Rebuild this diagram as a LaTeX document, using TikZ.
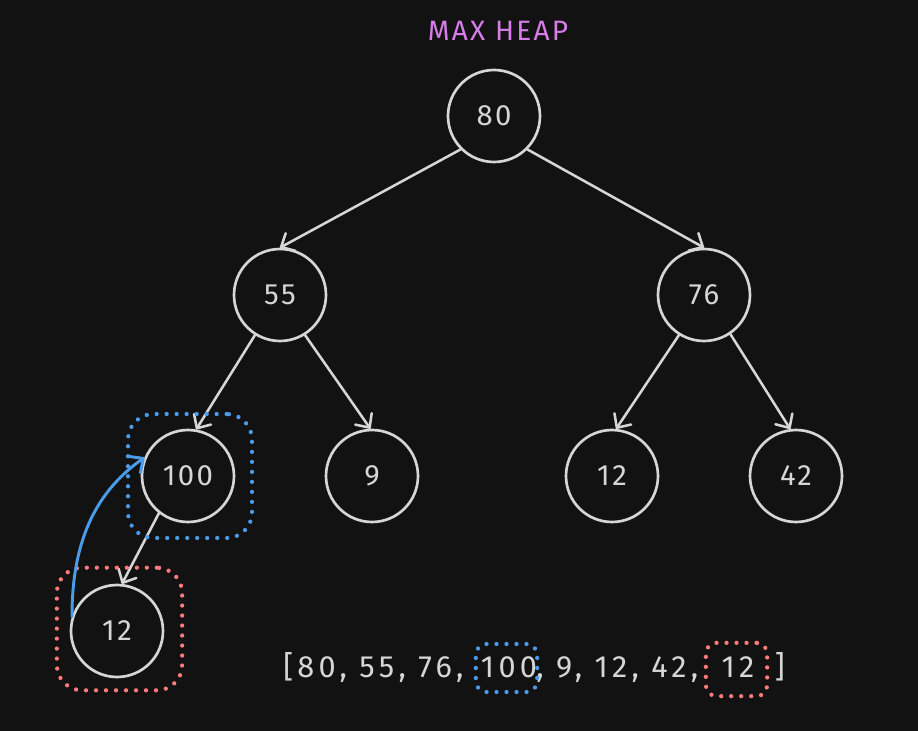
\documentclass[tikz,border=0pt]{standalone}
\usepackage{fontspec}
\setmainfont{Fira Sans}
\newfontfamily\widefont[LetterSpace=14]{Fira Sans}
\newfontfamily\nodefont[LetterSpace=8]{Fira Sans}
\newfontfamily\titlefont[LetterSpace=8]{Fira Sans}
\usetikzlibrary{arrows.meta}
\definecolor{bg}{HTML}{121212}
\definecolor{ink}{HTML}{D6D6D6}
\definecolor{hlblue}{HTML}{4A9BE8}
\definecolor{hlred}{HTML}{FF7B7B}
\definecolor{titlec}{HTML}{D77CE8}
\tikzset{
  heapnode/.style={circle, draw=ink, line width=2pt, minimum size=69pt, inner sep=0pt,
    text=ink, font=\nodefont\fontsize{22}{26}\selectfont},
  edge/.style={draw=ink, line width=1.9pt, line cap=round,
    -{Straight Barb[length=8pt,width=15pt,line cap=round,line join=round]}},
  swaparrow/.style={draw=hlblue, line width=2.2pt, line cap=round,
    -{Straight Barb[length=8pt,width=15pt,line cap=round,line join=round]}},
  dotbox/.style={draw, line width=3.2pt, line cap=round, dash pattern=on 0pt off 7.5pt,
    inner sep=0pt, fill=none},
  arr/.style={text=ink, font=\widefont\fontsize{23}{26}\selectfont, inner sep=0pt},
  titletext/.style={text=titlec, font=\titlefont\fontsize{21}{24}\selectfont, inner sep=0pt}
}
\begin{document}
\begin{tikzpicture}[x=0.75pt, y=-0.75pt]
  \fill[bg] (0,0) rectangle (918,731);
  \useasboundingbox (0,0) rectangle (918,731);

  \node[titletext] (title) at (498,31) {MAX HEAP};

  \node[heapnode] (n80) at (494,116) {80};
  \node[heapnode] (n55) at (280,295) {55};
  \node[heapnode] (n76) at (704,295) {76};
  \node[heapnode] (n100) at (188,476) {100};
  \node[heapnode] (n9) at (372,476) {9};
  \node[heapnode] (n12a) at (612,476) {12};
  \node[heapnode] (n42) at (796,476) {42};
  \node[heapnode] (n12b) at (117,631) {12};

  \draw[edge] (n80.south west) -- (n55.north);
  \draw[edge] (n80.south east) -- (n76.north);
  \draw[edge] (n55.238) -- (n100.80);
  \draw[edge] (n55.302) -- (n9.92);
  \draw[edge] (n76.238) -- (n12a.85);
  \draw[edge] (n76.304) -- (n42.97);
  \draw[edge] (n100.232) -- (n12b.84);

  \node[dotbox, draw=hlblue, rounded corners=19pt, minimum width=93pt, minimum height=93pt]
    (box100) at (190,476) {};
  \node[dotbox, draw=hlred, rounded corners=19pt, minimum width=94pt, minimum height=92pt]
    (box12) at (119.5,629) {};

  \draw[swaparrow] (n12b.162) .. controls +(0,-85) and +(-42,30) .. (n100.157);

  \node[arr, anchor=base west] (a1) at (283,677) {[80, 55, 76,};
  \node[arr, anchor=base] (a2) at (509,677) {100};
  \node[arr, anchor=base west] (a3) at (536,677) {, 9, 12, 42,};
  \node[arr, anchor=base] (a4) at (738,677) {12};
  \node[arr, anchor=base east] (a5) at (785,677) {]};

  \node[dotbox, draw=hlblue, rounded corners=8pt, minimum width=46pt, minimum height=36pt]
    (boxa2) at (506.5,668) {};
  \node[dotbox, draw=hlred, rounded corners=8pt, minimum width=46pt, minimum height=40pt]
    (boxa4) at (736.5,669.5) {};
\end{tikzpicture}
\end{document}
